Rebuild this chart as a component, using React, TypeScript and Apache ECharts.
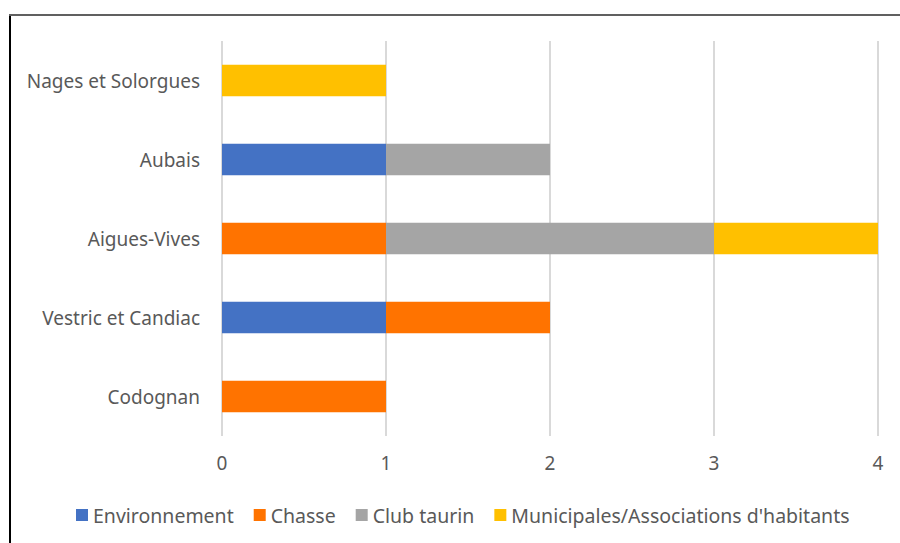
import React, { useEffect, useRef } from "react";
import * as echarts from "echarts";

const categories = ["Codognan", "Vestric et Candiac", "Aigues-Vives", "Aubais", "Nages et Solorgues"];
const seriesNames = ["Environnement", "Chasse", "Club taurin", "Municipales/Associations d'habitants"];
const environnement = [0, 1, 0, 1, 0];
const chasse = [1, 1, 1, 0, 0];
const clubTaurin = [0, 0, 2, 1, 0];
const municipales = [0, 0, 1, 0, 1];
const colors = ["#4472C4", "#FF7300", "#A5A5A5", "#FFC000"];
const xTicks = [0, 1, 2, 3, 4];

const FONT = "'Noto Sans', sans-serif";

export default function App() {
  const ref = useRef<HTMLDivElement>(null);
  useEffect(() => {
    if (!ref.current) return;
    const chart = echarts.init(ref.current, null, { renderer: "svg" });
    const data = [environnement, chasse, clubTaurin, municipales];
    chart.setOption({
      animation: false,
      color: colors,
      textStyle: { fontFamily: FONT },
      grid: { left: 222, right: 22, top: 41, bottom: 107, containLabel: false },
      xAxis: {
        type: "value",
        min: xTicks[0],
        max: xTicks[xTicks.length - 1],
        interval: 1,
        axisLine: { show: false },
        axisTick: { show: false },
        axisLabel: { color: "#595959", fontSize: 19, margin: 17, fontFamily: FONT },
        splitLine: { show: true, lineStyle: { color: "#D9D9D9", width: 2 } },
      },
      yAxis: {
        type: "category",
        data: categories,
        axisLine: { show: false },
        axisTick: { show: false },
        axisLabel: { color: "#595959", fontSize: 19, margin: 22, fontFamily: FONT },
      },
      legend: {
        left: 71,
        top: 500,
        itemWidth: 12,
        itemHeight: 12,
        itemGap: 20,
        icon: "rect",
        textStyle: { color: "#595959", fontSize: 19.5, fontFamily: FONT },
        data: seriesNames,
      },
      series: seriesNames.map((name, i) => ({
        name,
        type: "bar",
        stack: "total",
        barCategoryGap: "60%",
        data: data[i],
      })),
      graphic: [
        { type: "rect", left: 9, top: 14, shape: { width: 2, height: 540 }, style: { fill: "#000" } },
        { type: "rect", left: 9, top: 14, shape: { width: 900, height: 2 }, style: { fill: "#606060" } },
      ],
    });
    return () => chart.dispose();
  }, []);
  return <div ref={ref} style={{ position: "absolute", left: 0, top: 0, width: 900, height: 543 }} />;
}
